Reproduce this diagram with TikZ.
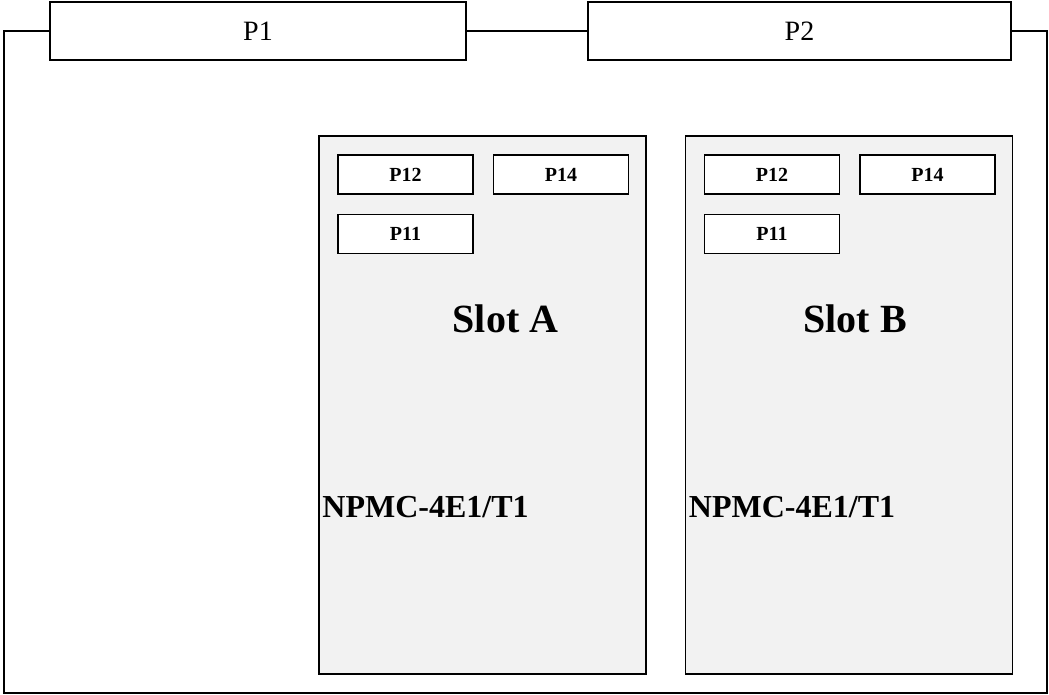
\documentclass[tikz,border=0pt]{standalone}
\usepackage{fontspec}
\setmainfont{Liberation Serif}
\usetikzlibrary{positioning,calc}

\definecolor{slotgray}{HTML}{F2F2F2}

\tikzset{
	board/.style={line width=2pt},
	header/.style={draw, line width=1.5pt, fill=white, minimum height=58pt, inner sep=0pt,
		font=\fontsize{28}{30}\selectfont},
	slotbox/.style={draw, line width=1.5pt, fill=slotgray, minimum width=327pt,
		minimum height=538pt, inner sep=0pt},
	port/.style={draw, line width=1.5pt, fill=white, minimum width=135pt, minimum height=39pt,
		inner sep=0pt, font=\fontsize{20}{22}\selectfont\bfseries},
	slotlabel/.style={inner sep=0pt, font=\fontsize{40}{42}\selectfont\bfseries},
	cardlabel/.style={inner sep=0pt, anchor=base west, font=\fontsize{32}{34}\selectfont\bfseries}
}

\begin{document}
\begin{tikzpicture}[x=1pt,y=-1pt]
	\useasboundingbox (0,0) rectangle (1049,695);
	% Headers on top edge
	\node[header, minimum width=416pt] (P1) at (258,31) {P1};
	\node[header, minimum width=423pt] (P2) at (799.5,31) {P2};
	
	% Board outline
	\coordinate (tl) at (4,31);
	\coordinate (bl) at (4,693);
	\coordinate (br) at (1047,693);
	\coordinate (tr) at (1047,31);
	\draw[board] (P1.west) -- (tl) -- (bl) -- (br) -- (tr) -- (P2.east);
	\draw[board] (P1.east) -- (P2.west);
	
	% Slots
	\node[slotbox] (slotA) at (482.5,405) {};
	\node[slotbox, right=38pt of slotA] (slotB) {};
	
	\foreach \s/\dx in {A/23,B/6} {
		\node[port, anchor=north west] (p12\s) at ($(slot\s.north west)+(19,19)$) {P12};
		\node[port, right=19pt of p12\s] (p14\s) {P14};
		\node[port, below=19pt of p12\s] (p11\s) {P11};
		\node[slotlabel] (lab\s) at ($(slot\s.north)+(\dx,184)$) {Slot \s};
		\node[cardlabel] (card\s) at ($(slot\s.west)+(4,112)$) {NPMC-4E1/T1};
	}
\end{tikzpicture}
\end{document}
